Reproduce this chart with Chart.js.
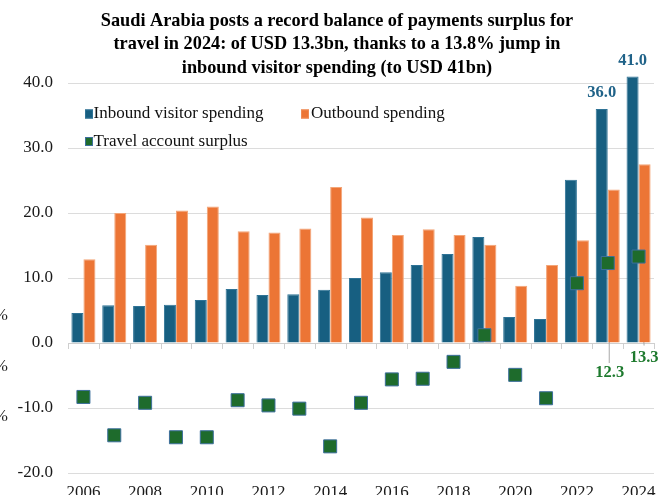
<!DOCTYPE html>
<html><head><meta charset="utf-8">
<script src="https://cdn.jsdelivr.net/npm/chart.js@4/dist/chart.umd.min.js"></script>
<style>
html,body{margin:0;padding:0;background:#fff;overflow:hidden;width:660px;height:495px}
#wrap{position:relative;width:660px;height:520px}
</style></head>
<body><div id="wrap"><canvas id="c" width="660" height="520"></canvas></div>
<script>
const titleLines = [
  "Saudi Arabia posts a record balance of payments surplus for",
  "travel in 2024: of USD 13.3bn, thanks to a 13.8% jump in",
  "inbound visitor spending (to USD 41bn)"
];
const years = ["2006","2007","2008","2009","2010","2011","2012","2013","2014","2015","2016","2017","2018","2019","2020","2021","2022","2023","2024"];
const inbound  = [4.6, 5.8, 5.7, 5.9, 6.6, 8.3, 7.4, 7.5, 8.2, 10.0, 10.9, 12.0, 13.7, 16.3, 4.0, 3.7, 25.1, 36.0, 41.0];
const outbound = [12.9, 20.0, 15.1, 20.4, 21.0, 17.2, 17.0, 17.6, 24.0, 19.3, 16.6, 17.5, 16.6, 15.1, 8.8, 12.0, 15.8, 23.6, 27.5];
const surplus  = [-8.3, -14.2, -9.2, -14.5, -14.5, -8.8, -9.6, -10.1, -15.9, -9.2, -5.6, -5.5, -2.9, 1.2, -4.9, -8.5, 9.2, 12.3, 13.3];
const seriesNames = ["Inbound visitor spending", "Outbound spending", "Travel account surplus"];
const inboundLabelled = [17, 18];
const leftFragments = ["%", "%", "%"];

const BLUE = "#175f81", ORANGE = "#ec7535", GREEN = "#1e6b2c";
const SERIF = "'Liberation Serif', 'DejaVu Serif', serif";
Chart.defaults.font.family = SERIF;

const extras = {
  id: "extras",
  beforeDatasetsDraw(chart) {
    const ctx = chart.ctx, x = chart.scales.x, y = chart.scales.y, a = chart.chartArea;
    const y0 = y.getPixelForValue(0);
    ctx.save();
    ctx.strokeStyle = "#cfcfcf"; ctx.lineWidth = 1;
    ctx.beginPath(); ctx.moveTo(a.left, Math.round(y0) + 0.5); ctx.lineTo(a.right, Math.round(y0) + 0.5); ctx.stroke();
    for (let i = 0; i <= years.length; i++) {
      let px;
      if (i === 0) px = a.left;
      else if (i === years.length) px = a.right;
      else px = (x.getPixelForValue(i - 1) + x.getPixelForValue(i)) / 2;
      px = Math.round(px) + 0.5;
      ctx.beginPath(); ctx.moveTo(px, y0); ctx.lineTo(px, y0 + 6); ctx.stroke();
    }
    const sm = chart.getDatasetMeta(0);
    ctx.strokeStyle = "#a8a8a8";
    const p17 = sm.data[17], p18 = sm.data[18];
    ctx.beginPath(); ctx.moveTo(p17.x + 1.5, p17.y); ctx.lineTo(p17.x + 1.5, p17.y + 100); ctx.stroke();
    ctx.beginPath(); ctx.moveTo(p18.x, p18.y); ctx.lineTo(p18.x + 5.5, p18.y + 89); ctx.stroke();
    ctx.restore();
  },
  afterDatasetsDraw(chart) {
    const ctx = chart.ctx;
    ctx.save();
    ctx.font = "bold 16.5px " + SERIF;
    ctx.textAlign = "center"; ctx.textBaseline = "middle";
    const bm = chart.getDatasetMeta(1);
    ctx.fillStyle = "#1f6288";
    inboundLabelled.forEach(i => {
      const el = bm.data[i];
      ctx.fillText(inbound[i].toFixed(1), el.x, el.y - 16);
    });
    const sm = chart.getDatasetMeta(0);
    ctx.fillStyle = "#1e7a2e";
    const p17 = sm.data[17], p18 = sm.data[18];
    ctx.fillText(surplus[17].toFixed(1), p17.x + 2, p17.y + 110);
    ctx.fillText(surplus[18].toFixed(1), p18.x + 5.5, p18.y + 101);
    ctx.restore();
  },
  afterDraw(chart) {
    const ctx = chart.ctx;
    ctx.save();
    ctx.font = "bold 18.3px " + SERIF;
    ctx.fillStyle = "#000"; ctx.textAlign = "center"; ctx.textBaseline = "middle";
    titleLines.forEach((t, i) => ctx.fillText(t, 337, 21 + i * 23.5));
    ctx.font = "17px " + SERIF;
    ctx.textBaseline = "middle"; ctx.textAlign = "left";
    const items = [
      {name: seriesNames[0], color: BLUE, border: "#2f7396", bx: 85, by: 114, tx: 93.5},
      {name: seriesNames[1], color: ORANGE, border: "#f08a52", bx: 301, by: 114, tx: 311},
      {name: seriesNames[2], color: GREEN, border: "#3d6f9c", bx: 85, by: 141.5, tx: 93.5}
    ];
    items.forEach(it => {
      ctx.fillStyle = it.color;
      ctx.fillRect(it.bx, it.by - 4.5, 8, 9);
      ctx.strokeStyle = it.border; ctx.lineWidth = 1;
      ctx.strokeRect(it.bx + 0.5, it.by - 4, 7, 8);
      ctx.fillStyle = "#111";
      ctx.fillText(it.name, it.tx, it.by);
    });
    ctx.textAlign = "right"; ctx.fillStyle = "#222";
    const fy = [316, 367, 417];
    leftFragments.forEach((t, i) => ctx.fillText(t, 8, fy[i]));
    ctx.restore();
  }
};

new Chart(document.getElementById("c"), {
  data: {
    labels: years,
    datasets: [
      {
        type: "line", label: seriesNames[2], data: surplus, showLine: false,
        pointStyle: "rect", pointRadius: 9.2, pointHoverRadius: 9.2,
        backgroundColor: GREEN, borderColor: "#3d6f9c", borderWidth: 1, order: 0, clip: false
      },
      {
        type: "bar", label: seriesNames[0], data: inbound,
        backgroundColor: BLUE, borderColor: "#2f7396", borderWidth: 1, order: 1,
        barPercentage: 1.0, categoryPercentage: 0.78, clip: false
      },
      {
        type: "bar", label: seriesNames[1], data: outbound,
        backgroundColor: ORANGE, borderColor: "#f3a577", borderWidth: 1, order: 1,
        barPercentage: 1.0, categoryPercentage: 0.78, clip: false
      }
    ]
  },
  options: {
    responsive: false,
    animation: false,
    layout: { autoPadding: false, padding: { left: 0, right: 6, top: 83, bottom: 0 } },
    plugins: {
      legend: { display: false },
      tooltip: { enabled: false },
      title: { display: false }
    },
    scales: {
      x: {
        type: "category",
        grid: { display: false, drawTicks: false },
        border: { display: false },
        ticks: {
          autoSkip: false, maxRotation: 0, padding: 0, color: "#1a1a1a",
          font: { size: 17, lineHeight: 2.26 },
          callback: function(v, i) { return i % 2 === 0 ? years[i] : ""; }
        },
        afterFit(s) { s.height = 47; }
      },
      y: {
        min: -20, max: 40,
        grid: { color: "#dcdcdc", drawTicks: false },
        border: { display: false },
        ticks: {
          stepSize: 10, padding: 15, color: "#1a1a1a",
          font: { size: 17 },
          callback: v => Number(v).toFixed(1)
        },
        afterFit(s) { s.width = 68; }
      }
    }
  },
  plugins: [extras]
});
</script>
</body></html>
